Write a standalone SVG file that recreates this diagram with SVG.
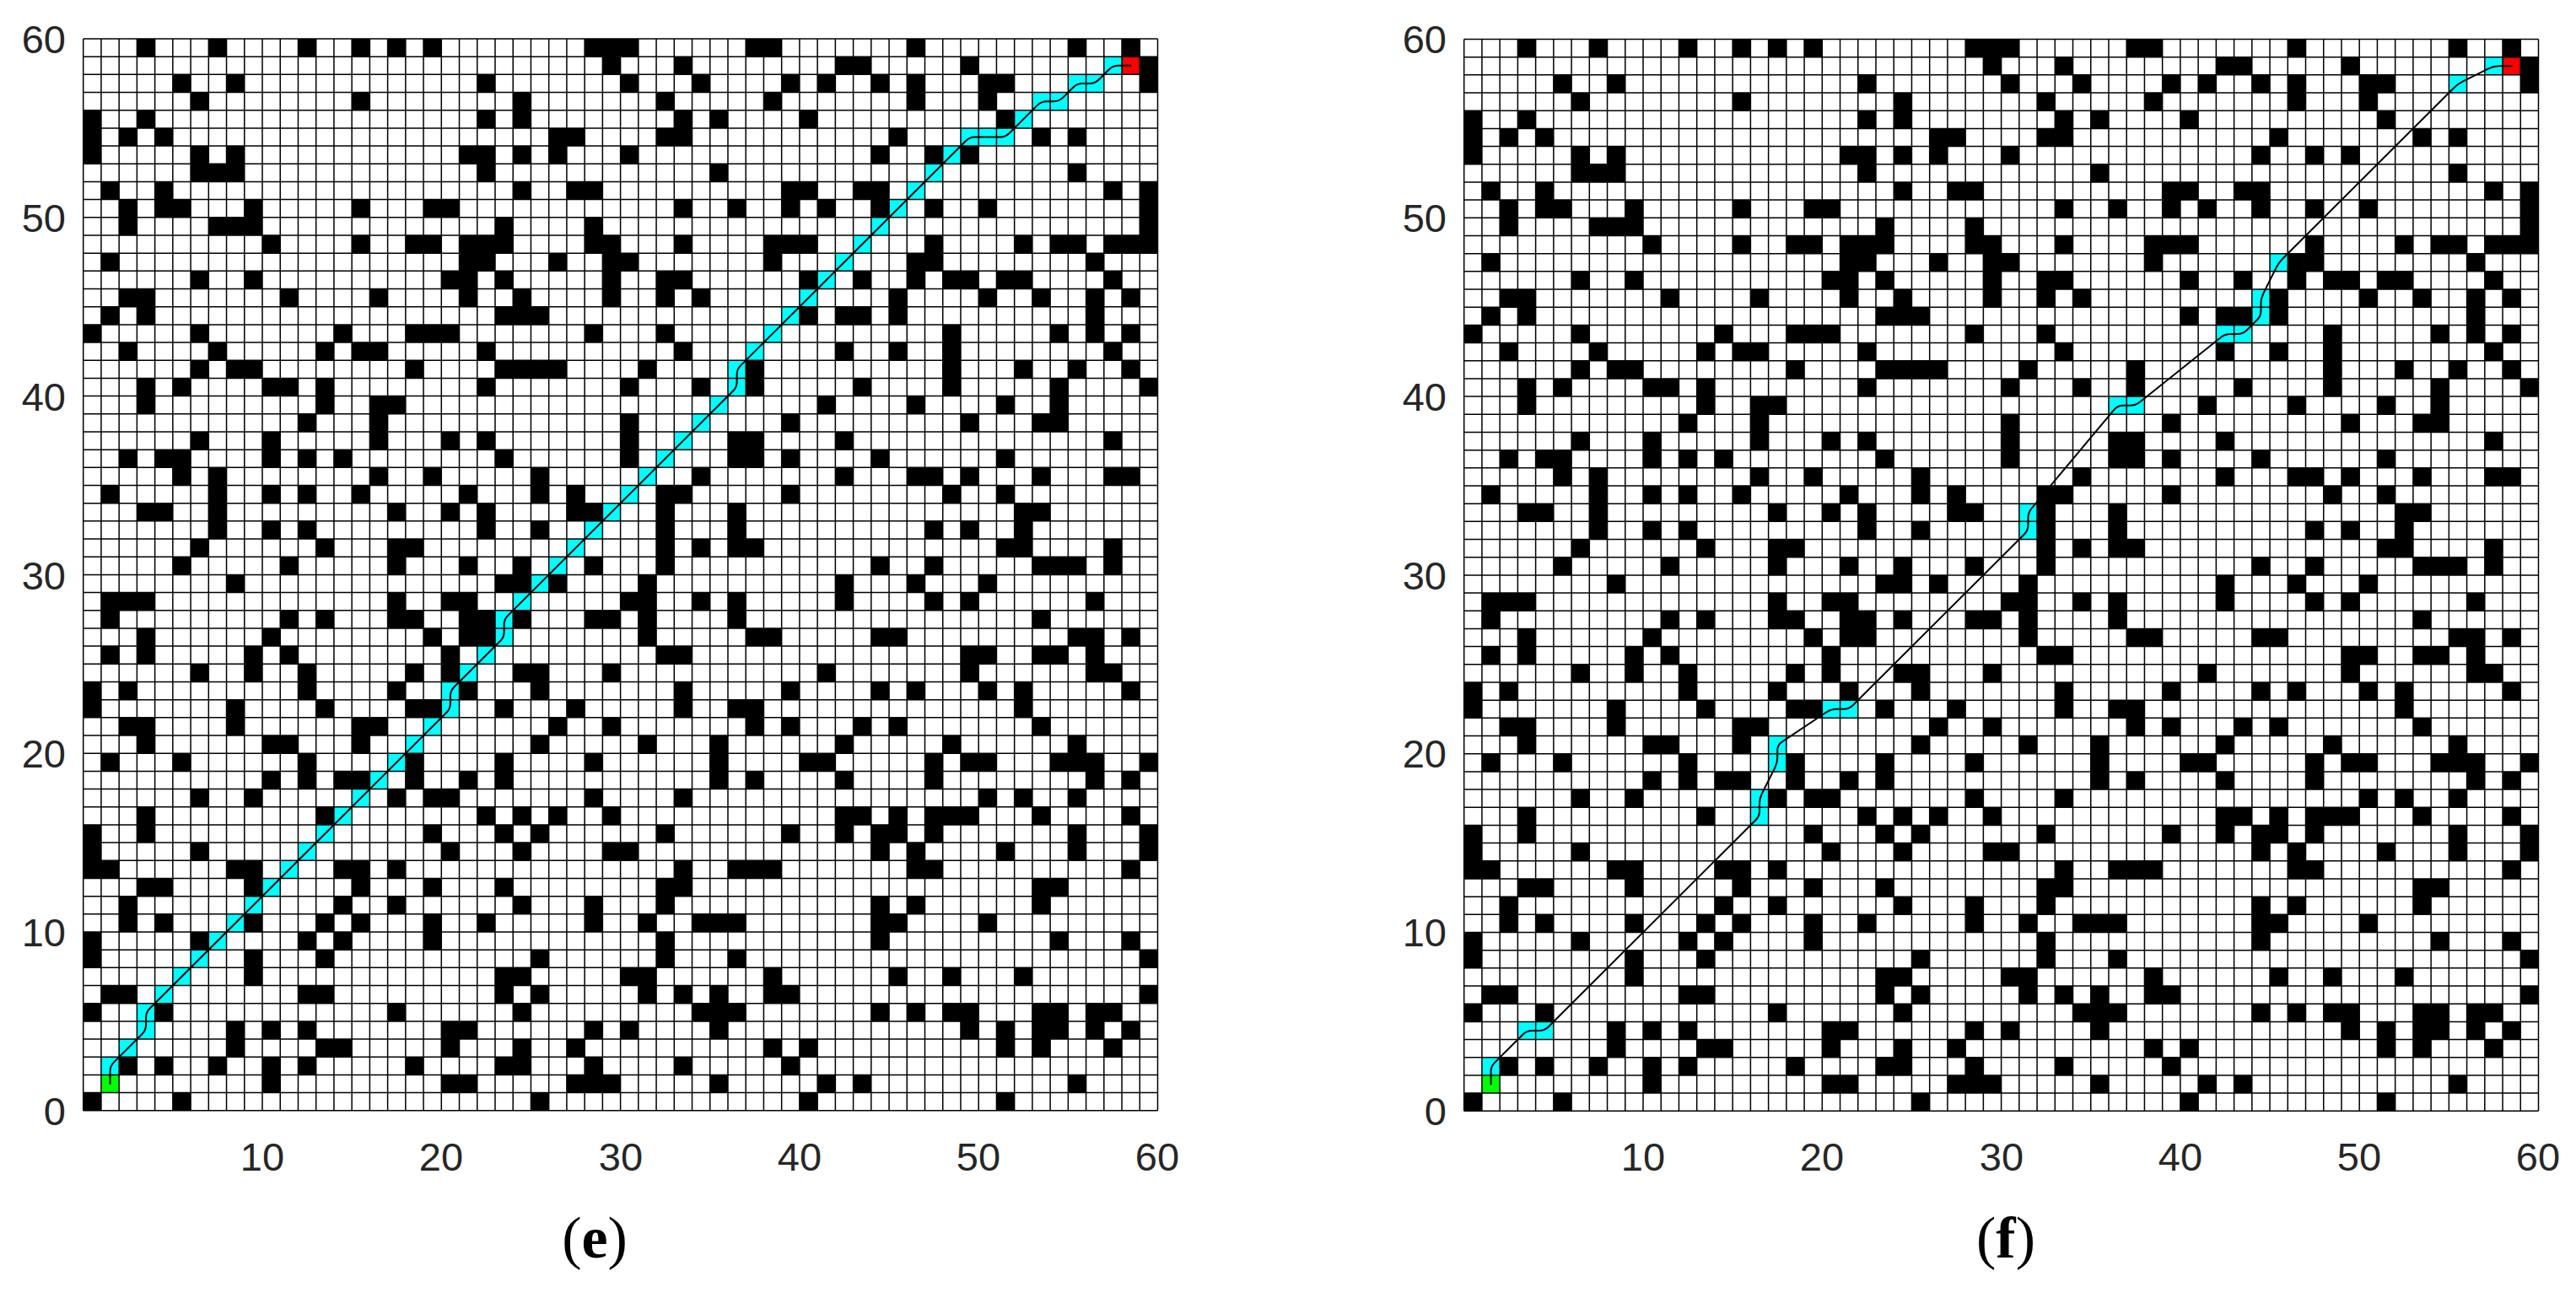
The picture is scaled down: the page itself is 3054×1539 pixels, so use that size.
<svg xmlns="http://www.w3.org/2000/svg" xmlns:xlink="http://www.w3.org/1999/xlink" width="3054" height="1539" viewBox="0 0 3054 1539">
<style>
.tick{font-family:"Liberation Sans",Arial,sans-serif;font-size:47px;fill:#262626}
.ty{text-anchor:end}
.tx{text-anchor:middle}
.cap{font-family:"Liberation Serif","Times New Roman",serif;font-size:70px;fill:#000;text-anchor:middle}
.grid{fill:none;stroke:#000;stroke-width:1.5;vector-effect:non-scaling-stroke}
.obst{fill:none;stroke:#000;stroke-width:1}
.cy{fill:none;stroke:#00ffff;stroke-width:1}
.st{fill:none;stroke:#00ff00;stroke-width:1}
.gl{fill:none;stroke:#ff0000;stroke-width:1}
.route{fill:none;stroke:#000;stroke-width:2;vector-effect:non-scaling-stroke;stroke-linejoin:round;stroke-linecap:round}
</style>
<defs>
<path id="obstacles" class="obst" d="M3 .5h1M7 .5h1M12 .5h1M15 .5h1M17 .5h1M19 .5h1M28 .5h3M37 .5h2M46 .5h1M55 .5h1M58 .5h1
M29 1.5h1M33 1.5h1M42 1.5h2M49 1.5h1M59 1.5h1
M5 2.5h1M8 2.5h1M22 2.5h1M30 2.5h1M34 2.5h1M39 2.5h1M41 2.5h1M44 2.5h1M46 2.5h1M50 2.5h2M59 2.5h1
M6 3.5h1M15 3.5h1M24 3.5h1M32 3.5h1M38 3.5h1M46 3.5h1M50 3.5h1
M0 4.5h1M3 4.5h1M22 4.5h1M24 4.5h1M33 4.5h1M35 4.5h1M40 4.5h1M51 4.5h1
M0 5.5h1M2 5.5h1M4 5.5h1M26 5.5h2M32 5.5h2M45 5.5h1M53 5.5h1M55 5.5h1
M0 6.5h1M6 6.5h1M8 6.5h1M21 6.5h2M24 6.5h1M26 6.5h1M30 6.5h1M44 6.5h1M47 6.5h1M49 6.5h1
M6 7.5h3M22 7.5h1M35 7.5h1M55 7.5h1
M1 8.5h1M4 8.5h1M24 8.5h1M27 8.5h2M39 8.5h2M43 8.5h2M57 8.5h1M59 8.5h1
M2 9.5h1M4 9.5h2M9 9.5h1M15 9.5h1M19 9.5h2M33 9.5h1M36 9.5h1M39 9.5h1M41 9.5h1M44 9.5h1M47 9.5h1M50 9.5h1M59 9.5h1
M2 10.5h1M7 10.5h3M23 10.5h1M28 10.5h1M59 10.5h1
M10 11.5h1M15 11.5h1M18 11.5h2M21 11.5h3M28 11.5h2M33 11.5h1M38 11.5h3M47 11.5h1M52 11.5h1M54 11.5h2M57 11.5h3
M1 12.5h1M21 12.5h2M26 12.5h1M29 12.5h2M38 12.5h1M46 12.5h2M56 12.5h1
M6 13.5h1M9 13.5h1M20 13.5h2M23 13.5h1M29 13.5h1M32 13.5h2M40 13.5h1M43 13.5h1M46 13.5h1M48 13.5h2M51 13.5h2M57 13.5h1
M2 14.5h2M11 14.5h1M16 14.5h1M21 14.5h1M24 14.5h1M29 14.5h1M32 14.5h1M34 14.5h1M45 14.5h1M50 14.5h1M53 14.5h1M56 14.5h1M58 14.5h1
M1 15.5h1M3 15.5h1M23 15.5h3M40 15.5h1M42 15.5h2M45 15.5h1M56 15.5h1
M0 16.5h1M6 16.5h1M14 16.5h1M18 16.5h3M28 16.5h1M32 16.5h1M48 16.5h1M54 16.5h1M56 16.5h1M58 16.5h1
M2 17.5h1M7 17.5h1M13 17.5h1M15 17.5h2M22 17.5h1M33 17.5h1M42 17.5h1M45 17.5h1M48 17.5h1M57 17.5h1
M6 18.5h1M8 18.5h2M18 18.5h1M23 18.5h4M31 18.5h1M37 18.5h1M48 18.5h1M52 18.5h1M55 18.5h1M58 18.5h1
M3 19.5h1M5 19.5h1M10 19.5h2M13 19.5h1M22 19.5h1M30 19.5h1M34 19.5h1M37 19.5h1M43 19.5h1M48 19.5h1M54 19.5h1M59 19.5h1
M3 20.5h1M13 20.5h1M16 20.5h2M41 20.5h1M46 20.5h1M51 20.5h1M54 20.5h1
M12 21.5h1M16 21.5h1M30 21.5h1M39 21.5h1M49 21.5h1M53 21.5h2
M6 22.5h1M10 22.5h1M16 22.5h1M20 22.5h1M22 22.5h1M30 22.5h1M36 22.5h2M42 22.5h1M57 22.5h1
M2 23.5h1M4 23.5h2M10 23.5h1M12 23.5h1M14 23.5h1M23 23.5h1M30 23.5h1M36 23.5h2M39 23.5h1M44 23.5h1M51 23.5h1
M5 24.5h1M7 24.5h1M16 24.5h1M19 24.5h1M25 24.5h1M34 24.5h1M42 24.5h1M46 24.5h2M49 24.5h1M53 24.5h1M57 24.5h2
M1 25.5h1M7 25.5h1M10 25.5h1M12 25.5h1M15 25.5h1M21 25.5h1M25 25.5h1M27 25.5h1M32 25.5h2M39 25.5h1M48 25.5h1M51 25.5h1
M3 26.5h2M7 26.5h1M17 26.5h1M20 26.5h1M22 26.5h1M27 26.5h2M32 26.5h1M36 26.5h1M52 26.5h2
M7 27.5h1M10 27.5h1M12 27.5h1M22 27.5h1M25 27.5h1M32 27.5h1M36 27.5h1M47 27.5h1M49 27.5h1M52 27.5h1
M6 28.5h1M13 28.5h1M17 28.5h2M32 28.5h1M34 28.5h1M36 28.5h2M51 28.5h2M57 28.5h1
M5 29.5h1M11 29.5h1M17 29.5h1M21 29.5h1M24 29.5h1M28 29.5h1M32 29.5h1M44 29.5h1M47 29.5h1M53 29.5h3M57 29.5h1
M8 30.5h1M23 30.5h2M26 30.5h1M31 30.5h1M42 30.5h1M46 30.5h1M50 30.5h1
M1 31.5h3M17 31.5h1M20 31.5h2M30 31.5h2M34 31.5h1M36 31.5h1M42 31.5h1M47 31.5h1M49 31.5h1M56 31.5h1
M1 32.5h1M11 32.5h1M13 32.5h1M17 32.5h2M21 32.5h2M24 32.5h1M28 32.5h2M31 32.5h1M36 32.5h1M53 32.5h1
M3 33.5h1M10 33.5h1M19 33.5h1M21 33.5h2M31 33.5h1M37 33.5h2M44 33.5h2M55 33.5h2M58 33.5h1
M1 34.5h1M3 34.5h1M9 34.5h1M11 34.5h1M20 34.5h1M32 34.5h2M49 34.5h2M53 34.5h2M56 34.5h1
M6 35.5h1M9 35.5h1M12 35.5h1M18 35.5h1M20 35.5h1M24 35.5h2M29 35.5h1M41 35.5h1M49 35.5h1M56 35.5h2
M0 36.5h1M2 36.5h1M12 36.5h1M17 36.5h1M21 36.5h1M25 36.5h1M33 36.5h1M39 36.5h1M44 36.5h1M46 36.5h1M50 36.5h1M52 36.5h1M58 36.5h1
M0 37.5h1M8 37.5h1M13 37.5h1M18 37.5h2M23 37.5h1M27 37.5h1M33 37.5h1M36 37.5h2M52 37.5h1
M2 38.5h2M8 38.5h1M15 38.5h2M26 38.5h1M29 38.5h1M37 38.5h1M39 38.5h1M43 38.5h1M45 38.5h1M53 38.5h1
M3 39.5h1M10 39.5h2M15 39.5h1M25 39.5h1M31 39.5h1M35 39.5h1M42 39.5h1M48 39.5h1M55 39.5h1
M1 40.5h1M5 40.5h1M12 40.5h1M18 40.5h1M23 40.5h1M28 40.5h1M35 40.5h1M40 40.5h2M47 40.5h1M49 40.5h2M54 40.5h3M59 40.5h1
M10 41.5h1M12 41.5h1M14 41.5h2M18 41.5h1M21 41.5h1M23 41.5h1M35 41.5h1M37 41.5h1M42 41.5h1M47 41.5h1M56 41.5h1M58 41.5h1
M6 42.5h1M9 42.5h1M17 42.5h1M19 42.5h2M28 42.5h1M33 42.5h1M50 42.5h1M52 42.5h1M55 42.5h1
M3 43.5h1M13 43.5h1M22 43.5h1M24 43.5h1M26 43.5h1M29 43.5h1M42 43.5h2M45 43.5h1M47 43.5h3M53 43.5h1M58 43.5h1
M0 44.5h1M3 44.5h1M19 44.5h1M23 44.5h1M25 44.5h1M32 44.5h1M39 44.5h1M42 44.5h1M44 44.5h2M47 44.5h1M55 44.5h1M59 44.5h1
M0 45.5h1M6 45.5h1M20 45.5h1M24 45.5h1M29 45.5h2M44 45.5h1M46 45.5h1M51 45.5h1M55 45.5h1M59 45.5h1
M0 46.5h2M8 46.5h2M14 46.5h2M17 46.5h1M33 46.5h1M36 46.5h3M46 46.5h2M58 46.5h1
M3 47.5h2M9 47.5h1M15 47.5h1M19 47.5h1M23 47.5h1M32 47.5h2M53 47.5h2
M2 48.5h1M14 48.5h1M17 48.5h1M24 48.5h1M28 48.5h1M32 48.5h1M44 48.5h1M46 48.5h1M53 48.5h1
M2 49.5h1M4 49.5h1M9 49.5h1M13 49.5h1M15 49.5h1M19 49.5h1M22 49.5h1M28 49.5h1M31 49.5h1M34 49.5h3M44 49.5h2M50 49.5h1
M0 50.5h1M6 50.5h1M12 50.5h1M14 50.5h1M19 50.5h1M32 50.5h1M44 50.5h1M54 50.5h1M58 50.5h1
M0 51.5h1M9 51.5h1M13 51.5h1M25 51.5h1M32 51.5h1M36 51.5h1M59 51.5h1
M9 52.5h1M23 52.5h2M30 52.5h2M38 52.5h1M45 52.5h1M48 52.5h1M52 52.5h1
M1 53.5h2M12 53.5h2M23 53.5h1M25 53.5h1M31 53.5h1M33 53.5h1M35 53.5h1M38 53.5h2M59 53.5h1
M0 54.5h1M4 54.5h1M17 54.5h1M24 54.5h1M34 54.5h3M44 54.5h1M46 54.5h1M48 54.5h2M53 54.5h2M56 54.5h2
M8 55.5h1M10 55.5h1M12 55.5h1M20 55.5h2M28 55.5h1M30 55.5h1M35 55.5h1M49 55.5h1M51 55.5h1M53 55.5h2M56 55.5h1M58 55.5h1
M8 56.5h1M13 56.5h2M20 56.5h1M24 56.5h1M27 56.5h1M38 56.5h1M40 56.5h1M51 56.5h1M53 56.5h1M57 56.5h1
M2 57.5h1M4 57.5h1M7 57.5h1M10 57.5h1M12 57.5h1M18 57.5h1M23 57.5h2M28 57.5h1M33 57.5h1M39 57.5h1
M10 58.5h1M20 58.5h2M27 58.5h3M35 58.5h1M41 58.5h1M43 58.5h1M55 58.5h1
M0 59.5h1M5 59.5h1M25 59.5h1M40 59.5h1M51 59.5h1"/>
<path id="gridlines" class="grid" d="M0 0V60M1 0V60M2 0V60M3 0V60M4 0V60M5 0V60M6 0V60M7 0V60M8 0V60M9 0V60
M10 0V60M11 0V60M12 0V60M13 0V60M14 0V60M15 0V60M16 0V60M17 0V60M18 0V60M19 0V60
M20 0V60M21 0V60M22 0V60M23 0V60M24 0V60M25 0V60M26 0V60M27 0V60M28 0V60M29 0V60
M30 0V60M31 0V60M32 0V60M33 0V60M34 0V60M35 0V60M36 0V60M37 0V60M38 0V60M39 0V60
M40 0V60M41 0V60M42 0V60M43 0V60M44 0V60M45 0V60M46 0V60M47 0V60M48 0V60M49 0V60
M50 0V60M51 0V60M52 0V60M53 0V60M54 0V60M55 0V60M56 0V60M57 0V60M58 0V60M59 0V60M60 0V60
M0 0H60M0 1H60M0 2H60M0 3H60M0 4H60M0 5H60M0 6H60M0 7H60M0 8H60M0 9H60
M0 10H60M0 11H60M0 12H60M0 13H60M0 14H60M0 15H60M0 16H60M0 17H60M0 18H60M0 19H60
M0 20H60M0 21H60M0 22H60M0 23H60M0 24H60M0 25H60M0 26H60M0 27H60M0 28H60M0 29H60
M0 30H60M0 31H60M0 32H60M0 33H60M0 34H60M0 35H60M0 36H60M0 37H60M0 38H60M0 39H60
M0 40H60M0 41H60M0 42H60M0 43H60M0 44H60M0 45H60M0 46H60M0 47H60M0 48H60M0 49H60
M0 50H60M0 51H60M0 52H60M0 53H60M0 54H60M0 55H60M0 56H60M0 57H60M0 58H60M0 59H60M0 60H60"/>
</defs>
<rect width="3054" height="1539" fill="#fff"/>
<g id="panel-e" transform="translate(98.7,46) scale(21.23,21.18)">
<use xlink:href="#obstacles"/>
<path class="cy" d="M1 57.5h1M2 56.5h1M3 55.5h1M3 54.5h1M4 53.5h1M5 52.5h1M6 51.5h1M7 50.5h1M8 49.5h1M9 48.5h1M10 47.5h1M11 46.5h1M12 45.5h1M13 44.5h1M14 43.5h1M15 42.5h1M16 41.5h1M17 40.5h1M18 39.5h1M19 38.5h1M20 37.5h1M20 36.5h1M21 35.5h1M22 34.5h1M23 33.5h1M23 32.5h1M24 31.5h1M25 30.5h1M26 29.5h1M27 28.5h1M28 27.5h1M29 26.5h1M30 25.5h1M31 24.5h1M32 23.5h1M33 22.5h1M34 21.5h1M35 20.5h1M36 19.5h1M36 18.5h1M37 17.5h1M38 16.5h1M39 15.5h1M40 14.5h1M41 13.5h1M42 12.5h1M43 11.5h1M44 10.5h1M45 9.5h1M46 8.5h1M47 7.5h1M48 6.5h1M49 5.5h3M52 4.5h1M53 3.5h2M55 2.5h2M57 1.5h1"/>
<path class="st" d="M1 58.5h1"/>
<path class="gl" d="M58 1.5h1"/>
<use xlink:href="#gridlines"/>
<path id="route-e" class="route" d="M1.5 58.5L1.5 57.8Q1.5 57.5 1.712 57.288L3.288 55.712Q3.5 55.5 3.5 55.2L3.5 54.8Q3.5 54.5 3.712 54.288L20.288 37.712Q20.5 37.5 20.5 37.2L20.5 36.8Q20.5 36.5 20.712 36.288L23.288 33.712Q23.5 33.5 23.5 33.2L23.5 32.8Q23.5 32.5 23.712 32.288L36.288 19.712Q36.5 19.5 36.5 19.2L36.5 18.8Q36.5 18.5 36.712 18.288L49.288 5.712Q49.5 5.5 49.8 5.5L51.2 5.5Q51.5 5.5 51.712 5.288L53.288 3.712Q53.5 3.5 53.8 3.5L54.2 3.5Q54.5 3.5 54.712 3.288L55.288 2.712Q55.5 2.5 55.8 2.5L56.2 2.5Q56.5 2.5 56.712 2.288L57.288 1.712Q57.5 1.5 57.8 1.5L58.5 1.5"/>
</g>
<g id="panel-f" transform="translate(1735.7,46.5) scale(21.23,21.18)">
<use xlink:href="#obstacles"/>
<path class="cy" d="M1 57.5h1M3 55.5h2M16 43.5h1M16 42.5h1M17 40.5h1M17 39.5h1M20 37.5h2M31 27.5h1M31 26.5h1M36 20.5h2M42 16.5h2M44 15.5h1M44 14.5h1M45 12.5h1M55 2.5h1M57 1.5h1"/>
<path class="st" d="M1 58.5h1"/>
<path class="gl" d="M58 1.5h1"/>
<use xlink:href="#gridlines"/>
<path id="route-f" class="route" d="M1.5 58.5L1.5 57.8Q1.5 57.5 1.712 57.288L3.288 55.712Q3.5 55.5 3.8 55.5L4.2 55.5Q4.5 55.5 4.712 55.288L16.288 43.712Q16.5 43.5 16.5 43.2L16.5 42.8Q16.5 42.5 16.634 42.232L17.366 40.768Q17.5 40.5 17.5 40.2L17.5 39.8Q17.5 39.5 17.75 39.334L20.25 37.666Q20.5 37.5 20.8 37.5L21.2 37.5Q21.5 37.5 21.712 37.288L31.288 27.712Q31.5 27.5 31.5 27.2L31.5 26.8Q31.5 26.5 31.692 26.27L36.308 20.73Q36.5 20.5 36.8 20.5L37.2 20.5Q37.5 20.5 37.734 20.313L42.266 16.687Q42.5 16.5 42.8 16.5L43.2 16.5Q43.5 16.5 43.712 16.288L44.288 15.712Q44.5 15.5 44.5 15.2L44.5 14.8Q44.5 14.5 44.634 14.232L45.366 12.768Q45.5 12.5 45.712 12.288L55.288 2.712Q55.5 2.5 55.768 2.366L57.232 1.634Q57.5 1.5 57.8 1.5L58.5 1.5"/>
</g>
<g id="axes-e" class="tick">
<text class="ty" x="78" y="1334">0</text>
<text class="ty" x="78" y="1122">10</text>
<text class="ty" x="78" y="910">20</text>
<text class="ty" x="78" y="699">30</text>
<text class="ty" x="78" y="487">40</text>
<text class="ty" x="78" y="275">50</text>
<text class="ty" x="78" y="63">60</text>
<text class="tx" x="311" y="1388">10</text>
<text class="tx" x="523" y="1388">20</text>
<text class="tx" x="736" y="1388">30</text>
<text class="tx" x="948" y="1388">40</text>
<text class="tx" x="1160" y="1388">50</text>
<text class="tx" x="1372" y="1388">60</text>
</g>
<g id="axes-f" class="tick">
<text class="ty" x="1715" y="1334">0</text>
<text class="ty" x="1715" y="1122">10</text>
<text class="ty" x="1715" y="910">20</text>
<text class="ty" x="1715" y="699">30</text>
<text class="ty" x="1715" y="487">40</text>
<text class="ty" x="1715" y="275">50</text>
<text class="ty" x="1715" y="63">60</text>
<text class="tx" x="1948" y="1388">10</text>
<text class="tx" x="2160" y="1388">20</text>
<text class="tx" x="2373" y="1388">30</text>
<text class="tx" x="2585" y="1388">40</text>
<text class="tx" x="2797" y="1388">50</text>
<text class="tx" x="3009" y="1388">60</text>
</g>
<g id="captions">
<text class="cap" x="705" y="1491">(<tspan font-weight="bold">e</tspan>)</text>
<text class="cap" x="2378" y="1491">(<tspan font-weight="bold">f</tspan>)</text>
</g>
</svg>
